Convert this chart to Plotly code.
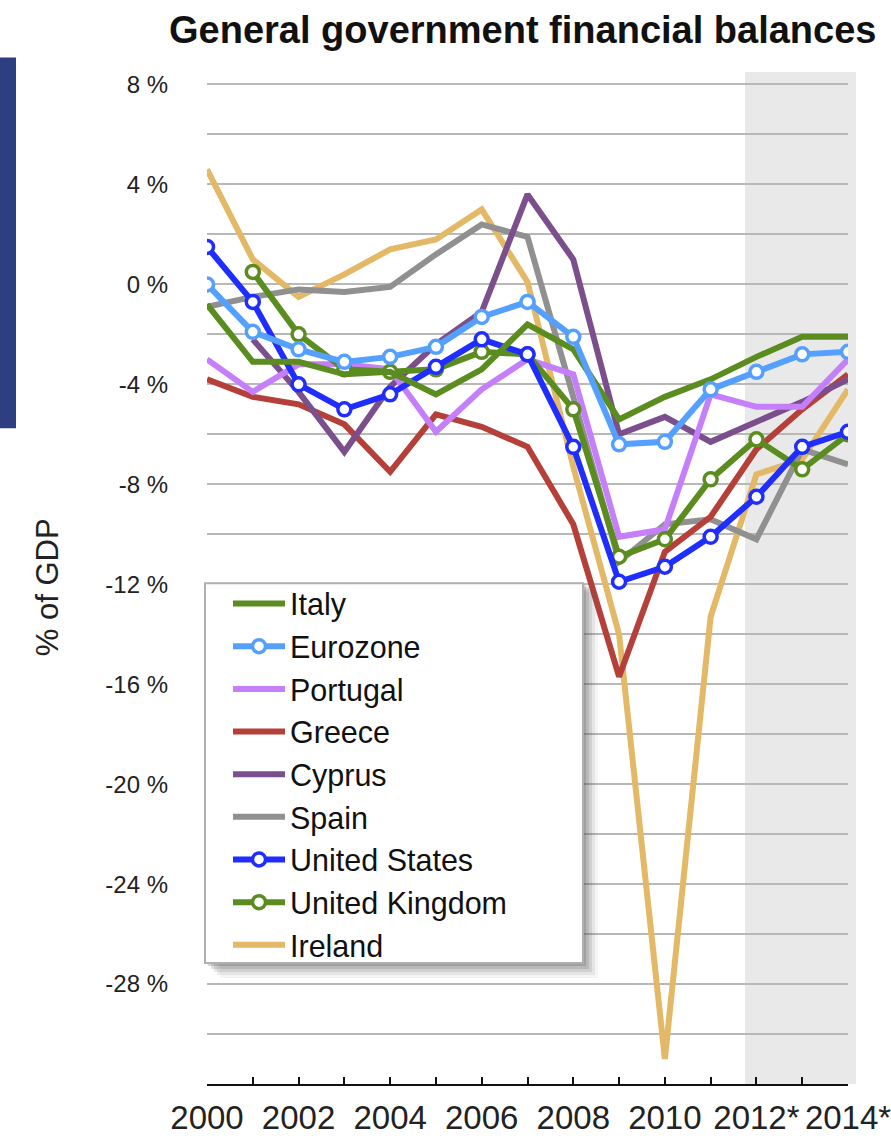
import plotly.graph_objects as go

years = list(range(2000, 2015))
tick_labels_x = ["2000", "", "2002", "", "2004", "", "2006", "", "2008", "", "2010", "", "2012*", "", "2014*"]
y_tick_vals = [8, 4, 0, -4, -8, -12, -16, -20, -24, -28]
y_tick_text = ["8 %", "4 %", "0 %", "-4 %", "-8 %", "-12 %", "-16 %", "-20 %", "-24 %", "-28 %"]

italy = [-0.8, -3.1, -3.1, -3.6, -3.5, -4.4, -3.4, -1.6, -2.6, -5.4, -4.5, -3.8, -2.9, -2.1, -2.1]
eurozone = [0.0, -1.9, -2.6, -3.1, -2.9, -2.5, -1.3, -0.7, -2.1, -6.4, -6.3, -4.2, -3.5, -2.8, -2.7]
portugal = [-3.0, -4.3, -3.2, -3.2, -3.4, -5.9, -4.2, -3.0, -3.6, -10.1, -9.8, -4.4, -4.9, -4.9, -3.0]
greece = [-3.8, -4.5, -4.8, -5.6, -7.5, -5.2, -5.7, -6.5, -9.6, -15.7, -10.7, -9.3, -6.6, -5.0, -3.6]
cyprus = [None, -2.2, -4.3, -6.7, -4.1, -2.4, -1.1, 3.6, 1.0, -6.0, -5.3, -6.3, -5.5, -4.7, -3.8]
spain = [-0.9, -0.5, -0.2, -0.3, -0.1, 1.2, 2.4, 1.9, -4.5, -11.1, -9.6, -9.4, -10.2, -6.6, -7.2]
united_states = [1.5, -0.7, -4.0, -5.0, -4.4, -3.3, -2.2, -2.8, -6.5, -11.9, -11.3, -10.1, -8.5, -6.5, -5.9]
united_kingdom = [None, 0.5, -2.0, -3.4, -3.5, -3.4, -2.7, -2.8, -5.0, -10.9, -10.2, -7.8, -6.2, -7.4, -6.0]
ireland = [4.6, 1.0, -0.5, 0.4, 1.4, 1.8, 3.0, 0.1, -7.3, -14.0, -31.0, -13.3, -7.6, -7.0, -4.2]

series = [
    # name, values, color, markers, legend rank
    ("Ireland", ireland, "#e3b866", False, 9),
    ("Spain", spain, "#909090", False, 6),
    ("Greece", greece, "#b5403a", False, 4),
    ("Cyprus", cyprus, "#7a4f8c", False, 5),
    ("Portugal", portugal, "#c67ffb", False, 3),
    ("United Kingdom", united_kingdom, "#5b8c1f", True, 8),
    ("United States", united_states, "#1f2dff", True, 7),
    ("Italy", italy, "#5b8c1f", False, 1),
    ("Eurozone", eurozone, "#55a0ff", True, 2),
]

fig = go.Figure()
for name, vals, color, mk, rank in series:
    fig.add_trace(go.Scatter(
        x=years, y=vals, name=name, legendrank=rank,
        mode="lines+markers" if mk else "lines",
        line=dict(color=color, width=6),
        marker=dict(symbol="circle", size=13, color="white",
                    line=dict(color=color, width=3.5)) if mk else None,
    ))

# pixel helpers for layout decoration
L, R, T, B = 207, 848, 71.5, 1084
def px(x):
    return (x - L) / (R - L)
def py(y):
    return (B - y) / (B - T)

shapes = [
    # forecast shading
    dict(type="rect", xref="paper", yref="paper", x0=px(745), x1=px(856), y0=0, y1=1,
         fillcolor="#e9e9e9", line=dict(width=0), layer="below"),
    # dark slide bar on the left
    dict(type="rect", xref="paper", yref="paper", x0=px(0), x1=px(16), y0=py(428), y1=py(57),
         fillcolor="#2d3f80", line=dict(width=0), layer="above"),
]
# legend drop shadow
for off, op in [(15, 0.06), (12, 0.10), (9, 0.14), (6, 0.18), (3, 0.24)]:
    shapes.append(dict(type="rect", xref="paper", yref="paper",
                       x0=px(205 + off), x1=px(583 + off), y0=py(963 + off), y1=py(583 + off * 0.6),
                       fillcolor="#555555", opacity=op, line=dict(width=0), layer="above"))
# legend box
shapes.append(dict(type="rect", xref="paper", yref="paper",
                   x0=px(205), x1=px(583), y0=py(963), y1=py(583),
                   fillcolor="white", line=dict(color="#b0b0b0", width=2), layer="above"))

fig.update_layout(
    width=891, height=1146,
    margin=dict(l=L, r=891 - R, t=T, b=1146 - B, autoexpand=False),
    paper_bgcolor="white", plot_bgcolor="rgba(0,0,0,0)",
    font=dict(family="Liberation Sans, Arial, sans-serif", color="#222222"),
    showlegend=True,
    legend=dict(x=px(228), y=py(577), xanchor="left", yanchor="top",
                bgcolor="rgba(0,0,0,0)", borderwidth=0,
                font=dict(size=30.5, color="#111111"), itemwidth=52,
                traceorder="normal"),
    shapes=shapes,
    annotations=[
        dict(text="<b>General government financial balances</b>", xref="paper", yref="paper",
             x=px(522), y=py(29), xanchor="center", yanchor="middle", showarrow=False,
             font=dict(size=38, color="#111111")),
        dict(text="% of GDP", xref="paper", yref="paper", x=px(47), y=py(587),
             xanchor="center", yanchor="middle", textangle=-90, showarrow=False,
             font=dict(size=31, color="#222222")),
    ],
)
fig.update_xaxes(range=[2000, 2014], tickvals=years, ticktext=tick_labels_x,
                 showgrid=False, zeroline=False, showline=True, linecolor="#111111", linewidth=2,
                 ticks="inside", ticklen=7, tickwidth=2, tickcolor="#111111",
                 tickfont=dict(size=33, color="#222222"), ticklabelstandoff=3,
                 ticklabeloverflow="allow")
fig.update_yaxes(range=[-32, 8.5], tickvals=y_tick_vals, ticktext=y_tick_text,
                 showgrid=True, gridcolor="#b8b8b8", gridwidth=2, zeroline=False,
                 showline=False, ticks="", tickfont=dict(size=24, color="#222222"),
                 ticklabelstandoff=38,
                 minor=dict(dtick=2, tick0=0, showgrid=True, gridcolor="#b8b8b8", gridwidth=2))

fig.write_html("out.html", config={"displayModeBar": False},
               post_script="document.body.style.margin='0';document.body.style.overflow='hidden';")
